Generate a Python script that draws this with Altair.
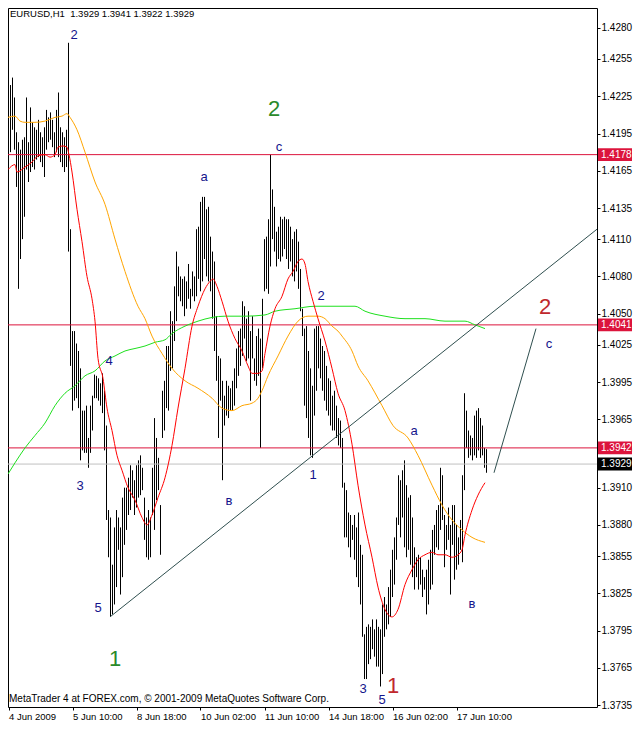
import altair as alt
import pandas as pd

# ---------------- data ----------------
bar_high = [
    1.4224, 1.4234, 1.4240, 1.4224, 1.4196, 1.4188, 1.4182, 1.4190, 1.4192, 1.4224,
    1.4188, 1.4216, 1.4204, 1.4200, 1.4198, 1.4206, 1.4196, 1.4192, 1.4200, 1.4214,
    1.4208, 1.4212, 1.4206, 1.4196, 1.4214, 1.4228, 1.4200, 1.4196, 1.4192, 1.4198,
    1.4268, 1.4118, 1.4036, 1.4036, 1.4026, 1.4020, 1.4006, 1.3972, 1.3972, 1.3976,
    1.3950, 1.3976, 1.3984, 1.4001, 1.4000, 1.3998, 1.3994, 1.4002, 1.3988, 1.3960,
    1.3892, 1.3886, 1.3848, 1.3878, 1.3892, 1.3886, 1.3878, 1.3902, 1.3910, 1.3910,
    1.3918, 1.3928, 1.3924, 1.3916, 1.3928, 1.3932, 1.3936, 1.3926, 1.3902, 1.3886,
    1.3892, 1.3886, 1.3926, 1.3966, 1.3950, 1.3934, 1.3896, 1.3988, 1.3996, 1.4024,
    1.4024, 1.4052, 1.4044, 1.4072, 1.4100, 1.4088, 1.4080, 1.4078, 1.4080, 1.4076,
    1.4090, 1.4070, 1.4084, 1.4080, 1.4118, 1.4120, 1.4140, 1.4144, 1.4144, 1.4134,
    1.4136, 1.4112, 1.4100, 1.4092, 1.4048, 1.4016, 1.4014, 1.3996, 1.3984, 1.3996,
    1.3992, 1.3990, 1.3996, 1.4006, 1.4022, 1.4036, 1.4038, 1.4060, 1.4056, 1.4046,
    1.4052, 1.4036, 1.4048, 1.4014, 1.4032, 1.4038, 1.4030, 1.4062, 1.4110, 1.4112,
    1.4126, 1.4178, 1.4150, 1.4136, 1.4116, 1.4120, 1.4128, 1.4126, 1.4128, 1.4126,
    1.4126, 1.4120, 1.4110, 1.4116, 1.4118, 1.4108, 1.4086, 1.4054, 1.4038, 1.4040,
    1.4020, 1.4006, 1.3992, 1.4038, 1.4040, 1.4040, 1.4030, 1.4024, 1.4020, 1.4008,
    1.3998, 1.3996, 1.3984, 1.3988, 1.3976, 1.3966, 1.3964, 1.3950, 1.3914, 1.3908,
    1.3890, 1.3888, 1.3880, 1.3888, 1.3878, 1.3890, 1.3864, 1.3856, 1.3792, 1.3798,
    1.3800, 1.3798, 1.3804, 1.3796, 1.3804, 1.3798, 1.3796, 1.3816, 1.3822, 1.3816,
    1.3830, 1.3844, 1.3860, 1.3870, 1.3886, 1.3920, 1.3916, 1.3924, 1.3932, 1.3912,
    1.3902, 1.3904, 1.3886, 1.3862, 1.3854, 1.3856, 1.3854, 1.3844, 1.3838, 1.3844,
    1.3852, 1.3860, 1.3876, 1.3880, 1.3892, 1.3896, 1.3926, 1.3920, 1.3888, 1.3880,
    1.3894, 1.3880, 1.3896, 1.3896, 1.3880, 1.3870, 1.3884, 1.3920, 1.3986, 1.3972,
    1.3956, 1.3952, 1.3950, 1.3968, 1.3972, 1.3974, 1.3966, 1.3960, 1.3942, 1.3941,
]
bar_low = [
    1.4168, 1.4180, 1.4198, 1.4182, 1.4152, 1.4070, 1.4094, 1.4110, 1.4128, 1.4166,
    1.4156, 1.4164, 1.4168, 1.4166, 1.4174, 1.4176, 1.4172, 1.4168, 1.4160, 1.4182,
    1.4188, 1.4190, 1.4184, 1.4176, 1.4180, 1.4176, 1.4172, 1.4168, 1.4164, 1.4168,
    1.4100, 1.4008, 1.3972, 1.3980, 1.3982, 1.3974, 1.3932, 1.3940, 1.3938, 1.3938,
    1.3926, 1.3938, 1.3956, 1.3982, 1.3982, 1.3980, 1.3976, 1.3970, 1.3940, 1.3884,
    1.3854, 1.3806, 1.3808, 1.3816, 1.3830, 1.3860, 1.3824, 1.3838, 1.3864, 1.3876,
    1.3888, 1.3892, 1.3902, 1.3888, 1.3894, 1.3902, 1.3904, 1.3908, 1.3868, 1.3854,
    1.3852, 1.3854, 1.3888, 1.3876, 1.3900, 1.3908, 1.3856, 1.3950, 1.3956, 1.3974,
    1.3972, 1.4004, 1.4006, 1.4028, 1.4044, 1.4064, 1.4060, 1.4056, 1.4048, 1.4054,
    1.4062, 1.4054, 1.4064, 1.4060, 1.4064, 1.4078, 1.4068, 1.4076, 1.4094, 1.4080,
    1.4076, 1.4068, 1.4046, 1.4020, 1.3996, 1.3950, 1.3980, 1.3916, 1.3960, 1.3968,
    1.3966, 1.3972, 1.3972, 1.3976, 1.3990, 1.4000, 1.4008, 1.4016, 1.4030, 1.4012,
    1.4014, 1.3980, 1.4014, 1.3996, 1.3992, 1.4000, 1.3942, 1.4006, 1.4068, 1.4070,
    1.4066, 1.4088, 1.4110, 1.4100, 1.4088, 1.4094, 1.4092, 1.4096, 1.4102, 1.4094,
    1.4086, 1.4092, 1.4080, 1.4076, 1.4084, 1.4070, 1.4052, 1.4032, 1.3976, 1.3966,
    1.3950, 1.3936, 1.3934, 1.3968, 1.3988, 1.4006, 1.3998, 1.3988, 1.3980, 1.3972,
    1.3968, 1.3960, 1.3956, 1.3956, 1.3950, 1.3944, 1.3942, 1.3910, 1.3870, 1.3870,
    1.3862, 1.3854, 1.3868, 1.3852, 1.3838, 1.3830, 1.3816, 1.3790, 1.3756, 1.3756,
    1.3768, 1.3772, 1.3780, 1.3774, 1.3766, 1.3766, 1.3750, 1.3760, 1.3790, 1.3796,
    1.3800, 1.3806, 1.3822, 1.3832, 1.3852, 1.3880, 1.3870, 1.3886, 1.3862, 1.3854,
    1.3860, 1.3848, 1.3838, 1.3828, 1.3838, 1.3828, 1.3832, 1.3822, 1.3828, 1.3808,
    1.3816, 1.3828, 1.3832, 1.3856, 1.3862, 1.3860, 1.3876, 1.3884, 1.3846, 1.3860,
    1.3868, 1.3824, 1.3864, 1.3836, 1.3844, 1.3848, 1.3860, 1.3850, 1.3908, 1.3942,
    1.3934, 1.3936, 1.3932, 1.3936, 1.3934, 1.3940, 1.3934, 1.3936, 1.3926, 1.3922,
]

time_ticks = [0, 32, 64, 96, 128, 160, 192, 224]
time_labels = ["4 Jun 2009", "5 Jun 10:00", "8 Jun 18:00", "10 Jun 02:00",
               "11 Jun 10:00", "14 Jun 18:00", "16 Jun 02:00", "17 Jun 10:00"]
price_ticks = [1.4280, 1.4255, 1.4225, 1.4195, 1.4165, 1.4135, 1.4110, 1.4080,
               1.4050, 1.4025, 1.3995, 1.3965, 1.3940, 1.3910, 1.3880, 1.3855,
               1.3825, 1.3795, 1.3765, 1.3735]

# fast (red) moving average
ma_fast_i = [-0.25, 3.25, 4.25, 8.25, 11.75, 14.75, 18.25, 20.75, 23.25, 24.75, 27.25, 29.25,
             30.25, 31.75, 34.25, 36.75, 39.25, 41.75, 43.25, 44.75, 47.25, 49.25, 51.75,
             54.25, 56.75, 59.75, 63.25, 66.75, 69.25, 71.75, 74.75, 78.25, 81.75, 84.75,
             88.25, 91.75, 94.75, 98.25, 100.75, 102.25, 104.25, 106.75, 109.75, 113.25,
             116.75, 119.75, 121.75, 124.75, 126.75, 128.25, 130.75, 133.25, 136.75, 139.75,
             142.25, 144.75, 146.75, 148.25, 149.75, 152.25, 154.75, 158.25, 161.75, 164.75,
             168.25, 171.75, 174.75, 178.25, 181.75, 184.75, 188.25, 191.75, 194.75, 198.25,
             201.75, 204.75, 208.25, 211.75, 214.75, 218.25, 221.75, 224.75, 226.75, 228.25,
             231.75, 234.75, 238.25]
ma_fast_p = [1.4166, 1.4170, 1.4164, 1.4168, 1.4172, 1.4177, 1.4178, 1.4176, 1.4178, 1.4184,
             1.4185, 1.4184, 1.4178, 1.4164, 1.4134, 1.4108, 1.4080, 1.4062, 1.4044, 1.4014,
             1.3998, 1.3974, 1.3956, 1.3936, 1.3924, 1.3910, 1.3900, 1.3886, 1.3880, 1.3888,
             1.3902, 1.3918, 1.3944, 1.3974, 1.4006, 1.4040, 1.4056, 1.4070, 1.4076, 1.4078,
             1.4072, 1.4060, 1.4044, 1.4030, 1.4020, 1.4008, 1.4002, 1.4002, 1.4004, 1.4018,
             1.4040, 1.4054, 1.4064, 1.4078, 1.4084, 1.4092, 1.4094, 1.4090, 1.4076, 1.4060,
             1.4046, 1.4028, 1.4006, 1.3986, 1.3972, 1.3945, 1.3912, 1.3880, 1.3854, 1.3830,
             1.3812, 1.3806, 1.3812, 1.3832, 1.3844, 1.3852, 1.3856, 1.3858, 1.3856, 1.3856,
             1.3854, 1.3856, 1.3860, 1.3872, 1.3892, 1.3904, 1.3914]

# medium (orange) moving average
ma_mid_i = [-0.25, 3.25, 5.75, 8.25, 13.25, 18.25, 23.25, 26.75, 29.25, 30.75, 34.25, 38.25,
            43.25, 48.25, 53.25, 58.25, 64.75, 68.25, 71.75, 76.75, 81.75, 88.25, 94.75,
            101.75, 106.75, 111.75, 116.75, 121.75, 124.75, 126.75, 129.75, 134.75, 139.75,
            144.75, 149.75, 154.75, 158.25, 161.75, 164.75, 166.75, 171.75, 174.75, 179.75,
            186.75, 192.25, 199.75, 204.75, 211.75, 216.75, 221.75, 226.75, 231.75, 238.25]
ma_mid_p = [1.4208, 1.4209, 1.4205, 1.4204, 1.4204, 1.4205, 1.4208, 1.4209, 1.4211, 1.4208,
            1.4198, 1.4180, 1.4156, 1.4138, 1.4110, 1.4084, 1.4056, 1.4046, 1.4032, 1.4018,
            1.4006, 1.3996, 1.3990, 1.3982, 1.3974, 1.3972, 1.3976, 1.3978, 1.3982, 1.3988,
            1.4000, 1.4016, 1.4032, 1.4044, 1.4048, 1.4048, 1.4046, 1.4040, 1.4036, 1.4032,
            1.4020, 1.4008, 1.3996, 1.3976, 1.3960, 1.3950, 1.3936, 1.3912, 1.3896, 1.3884,
            1.3876, 1.3870, 1.3866]

# slow (green) moving average
ma_slow_i = [-0.25, 3.25, 8.25, 13.25, 18.25, 23.25, 28.25, 33.25, 38.25, 43.25, 48.25, 53.25,
             58.25, 63.25, 68.25, 73.25, 78.25, 81.75, 88.25, 94.75, 101.75, 108.25, 118.25,
             128.25, 133.25, 143.25, 153.25, 163.25, 173.25, 178.25, 188.25, 198.25, 208.25,
             218.25, 228.25, 233.25, 238.25]
ma_slow_p = [1.3921, 1.3930, 1.3942, 1.3952, 1.3962, 1.3976, 1.3986, 1.3992, 1.4000, 1.4004,
             1.4012, 1.4016, 1.4020, 1.4022, 1.4024, 1.4027, 1.4029, 1.4034, 1.4040, 1.4044,
             1.4047, 1.4048, 1.4048, 1.4049, 1.4052, 1.4054, 1.4056, 1.4056, 1.4056, 1.4052,
             1.4048, 1.4046, 1.4046, 1.4044, 1.4044, 1.4041, 1.4038]

level_prices = [1.4178, 1.4041, 1.3942]
bid_price = 1.3929

trend_id = ["t1", "t1", "t2", "t2"]
trend_i = [50.75, 294.25, 242.75, 263.75]
trend_p = [1.3806, 1.4118, 1.3922, 1.4038]

# wave labels: text, bar index, price, style
wave_text = ["2", "2", "c", "a", "4", "3", "в", "2", "1", "a", "5", "1", "3", "1", "5", "в", "2", "c"]
wave_i = [32.75, 132.75, 135.25, 97.75, 50.25, 35.75, 110.25, 156.25, 152.25, 202.75,
          44.75, 53.25, 177.25, 192.25, 186.75, 231.75, 268.25, 270.25]
wave_p = [1.4274, 1.4215, 1.4184, 1.4160, 1.4012, 1.3911, 1.3899, 1.4064, 1.3920, 1.3956,
          1.3813, 1.3772, 1.3748, 1.3750, 1.3739, 1.3816, 1.4055, 1.4026]
wave_style = ["navy", "green", "navy", "navy", "navy", "navy", "navy", "navy", "navy", "navy",
              "navy", "green", "navy", "red", "navy", "navy", "red", "navy"]

box_prices = [1.4178, 1.4041, 1.3942, 1.3929]
box_colors = ["#dc143c", "#dc143c", "#dc143c", "#000000"]

title_text = "EURUSD,H1\u00a0 1.3929 1.3941 1.3922 1.3929"
footer_text = "MetaTrader 4 at FOREX.com, \u00a9 2001-2009 MetaQuotes Software Corp."

# ---------------- chart ----------------
W, H = 589, 699
FONT = "Liberation Sans"

bars = pd.DataFrame({"i": list(range(len(bar_high))), "high": bar_high, "low": bar_low})
fast = pd.DataFrame({"i": ma_fast_i, "p": ma_fast_p})
mid = pd.DataFrame({"i": ma_mid_i, "p": ma_mid_p})
slow = pd.DataFrame({"i": ma_slow_i, "p": ma_slow_p})
levels = pd.DataFrame({"p": level_prices})
bid = pd.DataFrame({"p": [bid_price]})
trends = pd.DataFrame({"id": trend_id, "i": trend_i, "p": trend_p})
waves = pd.DataFrame({"t": wave_text, "i": wave_i, "p": wave_p, "s": wave_style})
boxes = pd.DataFrame({"p": box_prices, "c": box_colors,
                      "lab": [f"{v:.4f}" for v in box_prices]})

xs = alt.Scale(domain=[-0.25, 294.25], nice=False, zero=False)
ys = alt.Scale(domain=[1.37335, 1.42960], nice=False, zero=False)

label_expr = "".join(f"datum.value == {t} ? '{l}' : " for t, l in zip(time_ticks, time_labels)) + "''"

x_axis = alt.Axis(values=time_ticks, labelExpr=label_expr, title=None, grid=False,
                  domain=False, tickSize=3, tickColor="black", labelAlign="left",
                  labelPadding=1, labelFont=FONT, labelFontSize=9.5, labelColor="black",
                  labelFlush=False, labelOverlap=False)
y_axis = alt.Axis(orient="right", values=price_ticks, format=".4f", title=None, grid=False,
                  domain=False, tickSize=3, tickColor="black", labelPadding=1,
                  labelFont=FONT, labelFontSize=10, labelColor="black",
                  labelOverlap=False, labelFlush=False)


def X(f="i"):
    return alt.X(f"{f}:Q", scale=xs, axis=x_axis)


def Y(f="p"):
    return alt.Y(f"{f}:Q", scale=ys, axis=y_axis)


bar_layer = alt.Chart(bars).mark_rule(color="black", strokeWidth=1).encode(
    x=X(), y=Y("high"), y2="low:Q",
)

level_layer = alt.Chart(levels).mark_rule(color="#dc143c", strokeWidth=1).encode(y=Y())
bid_layer = alt.Chart(bid).mark_rule(color="#c0c0c0", strokeWidth=1).encode(y=Y())

slow_layer = alt.Chart(slow).mark_line(color="#1ee01e", strokeWidth=1, interpolate="monotone").encode(x=X(), y=Y())
mid_layer = alt.Chart(mid).mark_line(color="#ffa500", strokeWidth=1, interpolate="monotone").encode(x=X(), y=Y())
fast_layer = alt.Chart(fast).mark_line(color="#ff0000", strokeWidth=1, interpolate="monotone").encode(x=X(), y=Y())

trend_layer = alt.Chart(trends).mark_line(color="#2f4f4f", strokeWidth=1).encode(
    x=X(), y=Y(), detail="id:N")

style_color = alt.Color("s:N", scale=alt.Scale(domain=["navy", "green", "red"],
                                               range=["#14148c", "#2a8a2a", "#c0282d"]),
                        legend=None)
wave_small = alt.Chart(waves).transform_filter("datum.s == 'navy'").mark_text(
    font=FONT, fontSize=13, baseline="middle", align="center").encode(
    x=X(), y=Y(), text="t:N", color=style_color)
wave_big = alt.Chart(waves).transform_filter("datum.s != 'navy'").mark_text(
    font=FONT, fontSize=22, baseline="middle", align="center").encode(
    x=X(), y=Y(), text="t:N", color=style_color)

box_layer = alt.Chart(boxes).mark_point(
    shape="M-1,-0.38L1,-0.38L1,0.38L-1,0.38Z", size=1156, filled=True, opacity=1,
    strokeWidth=0).encode(
    x=alt.value(W + 18), y=Y(), color=alt.Color("c:N", scale=None))
box_text = alt.Chart(boxes).mark_text(
    font=FONT, fontSize=10, color="white", align="left", baseline="middle").encode(
    x=alt.value(W + 4), y=Y(), text="lab:N")

title_layer = alt.Chart(pd.DataFrame({"t": [title_text]})).mark_text(
    font=FONT, fontSize=9.5, color="black", align="left", baseline="middle").encode(
    x=alt.value(2), y=alt.value(6), text="t:N")
footer_layer = alt.Chart(pd.DataFrame({"t": [footer_text]})).mark_text(
    font=FONT, fontSize=10, color="black", align="left", baseline="middle").encode(
    x=alt.value(1), y=alt.value(H - 8), text="t:N")

chart = alt.layer(
    bar_layer, level_layer, bid_layer, slow_layer, mid_layer, fast_layer, trend_layer,
    wave_small, wave_big, box_layer, box_text, title_layer, footer_layer,
).properties(
    width=W, height=H,
    autosize=alt.AutoSizeParams(type="none"),
    padding={"left": 0, "top": 0, "right": 36, "bottom": 14},
    background="white",
).configure_view(stroke="black", strokeWidth=1)

chart.save("out.html", embed_options={"renderer": "svg", "actions": False})
